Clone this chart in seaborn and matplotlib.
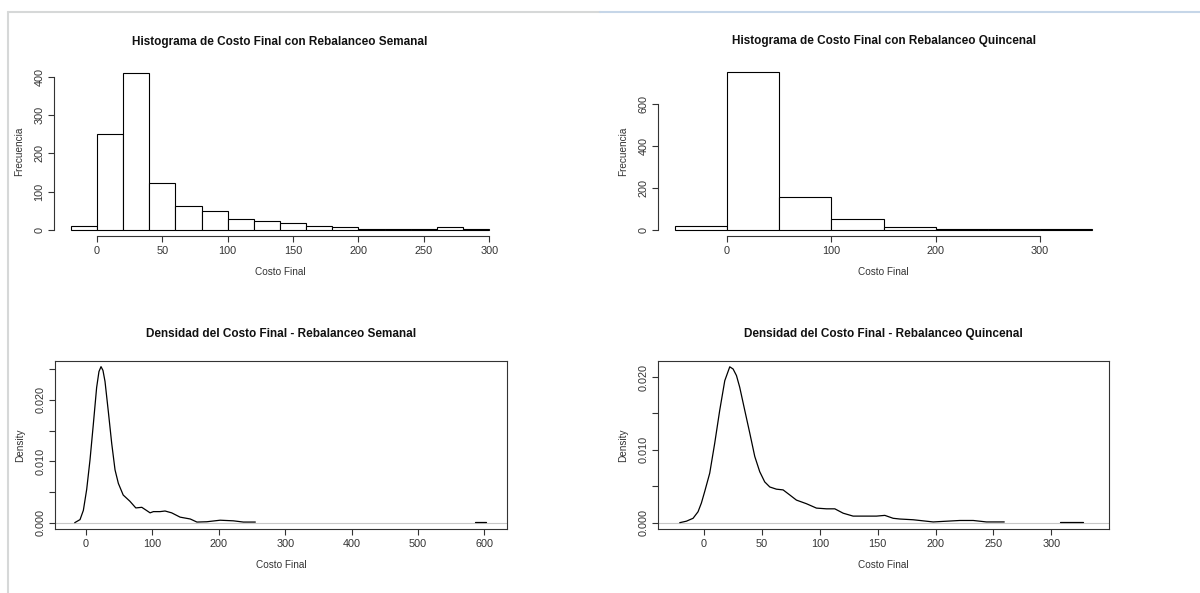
import numpy as np
import pandas as pd
import matplotlib
matplotlib.use("Agg")
import matplotlib.pyplot as plt
import seaborn as sns
from matplotlib.lines import Line2D

# Histograma semanal (bins de 20)
bordes_sem = [-20, 0, 20, 40, 60, 80, 100, 120, 140, 160, 180, 200, 220, 240, 260, 280, 300]
conteo_sem = [10, 250, 410, 122, 62, 48, 27, 22, 18, 10, 8, 3, 1, 1, 7, 1]

# Histograma quincenal (bins de 50)
bordes_quin = [-50, 0, 50, 100, 150, 200, 250, 300, 350]
conteo_quin = [20, 750, 155, 52, 15, 5, 2, 1]

# Densidad semanal
dens_sem_x = [-17, -9, -4, 1, 6, 11, 16, 19.5, 22.6, 25.5, 28.6, 33.7, 38.7, 43.7, 48.7, 56, 66, 75, 84,
              91, 96.5, 101.5, 111.5, 119, 129, 141.7, 157, 167, 182, 202, 222, 237, 255]
dens_sem_y = [0.0, 0.0005, 0.002, 0.0054, 0.0102, 0.016, 0.022, 0.0246, 0.0254, 0.0248, 0.023, 0.018, 0.0129,
              0.0086, 0.0064, 0.0045, 0.0035, 0.0024, 0.0025, 0.002, 0.0016, 0.0018, 0.0018,
              0.0019, 0.0016, 0.0009, 0.0006, 0.0001, 0.00015, 0.0004, 0.0003, 0.0001, 0.0001]
cola_sem_x = [586, 602]
cola_sem_y = [0.0001, 0.0001]

# Densidad quincenal
dens_quin_x = [-21, -15.3, -9.5, -5.2, -2.3, 0.6, 4.9, 9.2, 13.5, 17.9, 22.2, 25.1, 28, 30.8,
               35.2, 39.5, 43.8, 48.1, 52.4, 56.8, 62.5, 68.3, 74.1, 79.8, 88.5, 97.1, 105.8,
               113, 120.2, 128.8, 140.3, 149, 156.2, 163.4, 169.2, 180.7, 192.2, 198, 209.5,
               221, 232.6, 244, 259.4]
dens_quin_y = [0.0, 0.0002, 0.0006, 0.0015, 0.0027, 0.0043, 0.0068, 0.0109, 0.0154, 0.0195,
               0.0214, 0.0211, 0.0202, 0.0186, 0.0154, 0.0123, 0.0091, 0.007, 0.0056, 0.0049,
               0.0046, 0.0045, 0.0038, 0.0031, 0.0026, 0.002, 0.0019, 0.0019, 0.0013, 0.0009,
               0.0009, 0.0009, 0.001, 0.0006, 0.0005, 0.0004, 0.0002, 0.0001, 0.0002, 0.0003,
               0.0003, 0.0001, 0.0001]
cola_quin_x = [307.5, 327.7]
cola_quin_y = [0.0001, 0.0001]

sns.set_style("white")
plt.rcParams['font.family'] = ['Liberation Sans', 'DejaVu Sans']

fig = plt.figure(figsize=(12, 5.93), dpi=100)
W, H = 1200, 593


def caja(l, t, r, b):
    return fig.add_axes([l / W, 1 - b / H, (r - l) / W, (b - t) / H])


gris = '#333333'


def estilo(ax, titulo, ylab, pad):
    ax.set_title(titulo, fontsize=8.5, fontweight='bold', color='#111111', pad=pad)
    ax.set_xlabel('Costo Final', fontsize=7.2, color=gris, labelpad=8)
    ax.set_ylabel(ylab, fontsize=7.2, color=gris, labelpad=7)
    ax.tick_params(axis='both', labelsize=7.8, colors=gris, length=4, width=0.8, pad=3,
                   bottom=True, left=True, top=False, right=False)
    plt.setp(ax.get_yticklabels(), rotation=90, va='center')
    for s in ax.spines.values():
        s.set_color(gris)
        s.set_linewidth(0.8)


def histograma(ax, bordes, conteo, xlim, ylim, xticks, yticks, titulo):
    centros = [(a + b) / 2 for a, b in zip(bordes[:-1], bordes[1:])]
    df = pd.DataFrame({'x': centros, 'n': conteo})
    sns.histplot(data=df, x='x', weights='n', bins=bordes, ax=ax, color='white',
                 edgecolor='black', linewidth=0.8, alpha=1)
    ax.set_xlim(*xlim)
    ax.set_ylim(*ylim)
    ax.set_xticks(xticks)
    ax.set_yticks(yticks)
    ax.spines['top'].set_visible(False)
    ax.spines['right'].set_visible(False)
    estilo(ax, titulo, 'Frecuencia', 15.5)
    ax.spines['left'].set_bounds(yticks[0], yticks[-1])
    ax.spines['bottom'].set_bounds(xticks[0], xticks[-1])


def densidad(ax, x, y, cx, cy, xlim, ylim, xticks, titulo):
    ax.axhline(0, color='#c8c8c8', lw=0.8, zorder=1)
    sns.lineplot(x=x, y=y, ax=ax, color='black', lw=0.9, sort=False, estimator=None)
    sns.lineplot(x=cx, y=cy, ax=ax, color='black', lw=0.9, sort=False, estimator=None)
    ax.set_xlim(*xlim)
    ax.set_ylim(*ylim)
    ax.set_xticks(xticks)
    yt = [0, 0.005, 0.010, 0.015, 0.020] + ([0.025] if ylim[1] > 0.025 else [])
    ax.set_yticks(yt)
    ax.set_yticklabels(['0.000' if v == 0 else ('%.3f' % v if round(v * 1000) % 10 == 0 else '')
                        for v in yt])
    estilo(ax, titulo, 'Density', 17.5)


ax1 = caja(54, 67, 506, 236)
histograma(ax1, bordes_sem, conteo_sem, (-32.8, 312.8), (-16.4, 426.4),
           [0, 50, 100, 150, 200, 250, 300], [0, 100, 200, 300, 400],
           'Histograma de Costo Final con Rebalanceo Semanal')

ax2 = caja(658, 66, 1109, 236)
histograma(ax2, bordes_quin, conteo_quin, (-66, 366), (-30, 780),
           [0, 100, 200, 300], [0, 200, 400, 600],
           'Histograma de Costo Final con Rebalanceo Quincenal')

ax3 = caja(55, 361, 507, 529)
densidad(ax3, dens_sem_x, dens_sem_y, cola_sem_x, cola_sem_y, (-46.7, 634), (-0.00103, 0.02632),
         [0, 100, 200, 300, 400, 500, 600], 'Densidad del Costo Final - Rebalanceo Semanal')

ax4 = caja(658, 361, 1109, 529)
densidad(ax4, dens_quin_x, dens_quin_y, cola_quin_x, cola_quin_y, (-39.8, 349.9), (-0.00087, 0.0222),
         [0, 50, 100, 150, 200, 250, 300], 'Densidad del Costo Final - Rebalanceo Quincenal')

# marco de la captura
fig.add_artist(Line2D([8 / W, 600 / W], [1 - 11.5 / H, 1 - 11.5 / H], color='#d6d8d8', lw=1.5))
fig.add_artist(Line2D([600 / W, 1.0], [1 - 11.5 / H, 1 - 11.5 / H], color='#c6d6e8', lw=1.5))
fig.add_artist(Line2D([8 / W, 8 / W], [0, 1 - 11.5 / H], color='#d6d8d8', lw=1.5))

fig.savefig('out.png', dpi=100)
